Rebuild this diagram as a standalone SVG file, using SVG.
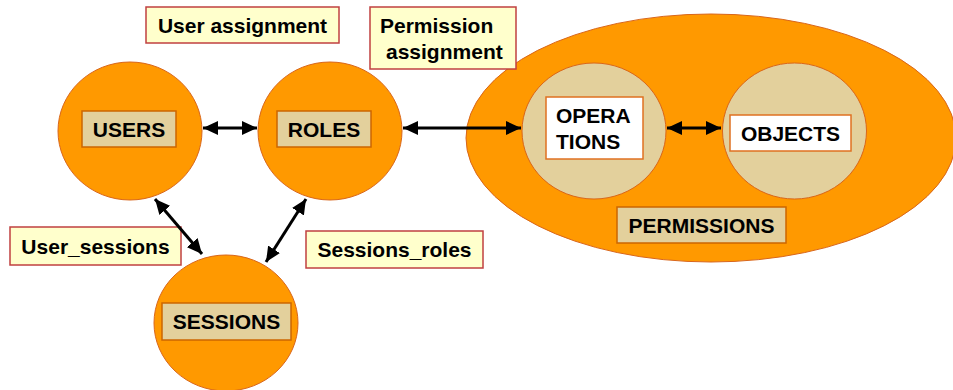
<svg xmlns="http://www.w3.org/2000/svg" width="953" height="390" viewBox="0 0 953 390">
<defs>
<marker id="ah" viewBox="0 0 15 14" refX="15" refY="7" markerWidth="15" markerHeight="14" markerUnits="userSpaceOnUse" orient="auto-start-reverse">
<path d="M0,0 L15,7 L0,14 Z" fill="#000"/>
</marker>
</defs>
<style>
text{font-family:"Liberation Sans",Arial,sans-serif;font-weight:bold;font-size:21px;fill:#000}
.c{fill:#ff9900;stroke:#d9661a;stroke-width:1}
.ct{fill:#e3d09c;stroke:#d9661a;stroke-width:1}
.tb{fill:#e3d09c;stroke:#cc6600;stroke-width:1.5}
.wb{fill:#ffffff;stroke:#e07020;stroke-width:1.5}
.lb{fill:#ffffcc;stroke:#c04040;stroke-width:1.5}
.cn{stroke:#000;stroke-width:3;fill:none;marker-start:url(#ah);marker-end:url(#ah)}
</style>
<g id="permissions">
<ellipse class="c" cx="711" cy="138" rx="245" ry="124"/>
<rect class="tb" x="617" y="207" width="169" height="36"/>
<text x="701.5" y="233" text-anchor="middle">PERMISSIONS</text>
</g>
<g id="operations">
<ellipse class="ct" cx="594" cy="131" rx="72" ry="68"/>
<rect class="wb" x="546" y="97" width="97" height="62"/>
<text x="556" y="123">OPERA</text>
<text x="556" y="149">TIONS</text>
</g>
<g id="objects">
<ellipse class="ct" cx="794.5" cy="131" rx="72" ry="68"/>
<rect class="wb" x="730" y="115" width="121" height="36"/>
<text x="790.5" y="141" text-anchor="middle">OBJECTS</text>
</g>
<g id="users">
<ellipse class="c" cx="130" cy="131" rx="72" ry="69"/>
<rect class="tb" x="82" y="111" width="94" height="36"/>
<text x="129" y="137" text-anchor="middle">USERS</text>
</g>
<g id="roles">
<ellipse class="c" cx="330" cy="131" rx="72" ry="69"/>
<rect class="tb" x="277" y="111" width="94" height="36"/>
<text x="324" y="137" text-anchor="middle">ROLES</text>
</g>
<g id="sessions">
<ellipse class="c" cx="226" cy="323" rx="72" ry="68"/>
<rect class="tb" x="162" y="303" width="129" height="37"/>
<text x="226.5" y="329" text-anchor="middle">SESSIONS</text>
</g>
<g id="label-user-assignment">
<rect class="lb" x="146" y="7" width="193" height="36"/>
<text x="242.5" y="33" text-anchor="middle">User assignment</text>
</g>
<g id="label-permission-assignment">
<rect class="lb" x="370" y="7" width="146" height="62"/>
<text x="380" y="33">Permission</text>
<text x="386" y="59">assignment</text>
</g>
<g id="label-user-sessions">
<rect class="lb" x="10" y="227" width="171" height="38"/>
<text x="95.5" y="254" text-anchor="middle">User_sessions</text>
</g>
<g id="label-sessions-roles">
<rect class="lb" x="306" y="231" width="177" height="37"/>
<text x="394.5" y="257" text-anchor="middle">Sessions_roles</text>
</g>
<g id="connectors">
<line class="cn" x1="203" y1="128" x2="257" y2="128"/>
<line class="cn" x1="403" y1="128" x2="521" y2="128"/>
<line class="cn" x1="667" y1="128" x2="721" y2="128"/>
<line class="cn" x1="155" y1="199" x2="202" y2="254"/>
<line class="cn" x1="306" y1="199" x2="266" y2="262"/>
</g>
</svg>
